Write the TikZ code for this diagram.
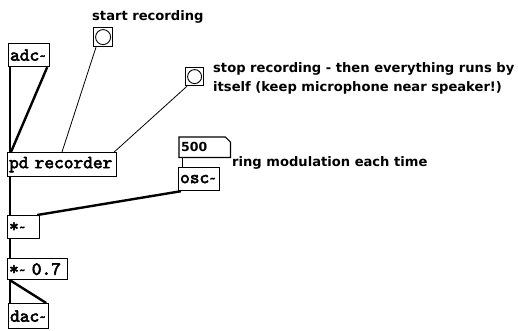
\documentclass[tikz,border=0pt]{standalone}
\usepackage{fontspec}
\newfontfamily\cmtfont{DejaVu Sans}
\newfontfamily\boxfont{lmmono10-regular.otf}[FakeBold=3]
\newcommand{\tl}{{\fontsize{13}{13}\selectfont\raisebox{0.5pt}{\char"007E}}}
\begin{document}
\begin{tikzpicture}[x=1pt,y=-1pt,
  box/.style={draw, line width=1.2pt, inner xsep=1.5pt, inner ysep=0pt, anchor=north west, align=left,
    font=\boxfont\fontsize{18.5}{18.5}\selectfont},
  bangbox/.style={draw, line width=1.2pt, minimum size=#1, inner sep=0pt, anchor=north west},
  bangcirc/.style={draw, circle, line width=0.9pt, minimum size=#1, inner sep=0pt},
  cmt/.style={anchor=base west, inner sep=0pt, font=\cmtfont\bfseries\fontsize{13.1}{15}\selectfont},
  sig/.style={line width=2.4pt},
  ctl/.style={line width=0.8pt}]
\useasboundingbox (0,0) rectangle (518,330);
\fill[white] (0,0) rectangle (518,330);

% comments
\node[cmt] (tstart) at (92,20) {start recording};
\node[cmt] (tstop1) at (213,72) {stop recording - then everything runs by};
\node[cmt] (tstop2) at (213,91) {itself (keep microphone near speaker!)};
\node[cmt] (tring) at (232,166) {ring modulation each time};

% boxes
\node[box, text width=38, minimum height=23] (adc) at (8,43) {adc\tl};
\node[bangbox=19] (bstart) at (93,27) {};
\node[bangcirc=15] (cstart) at (bstart.center) {};
\node[bangbox=18] (bstop) at (185,67) {};
\node[bangcirc=14] (cstop) at (bstop.center) {};
\node[box, text width=106, minimum height=24] (pdrec) at (7,152) {pd recorder};
\node[inner xsep=2pt, inner ysep=0pt, anchor=north west, text width=47, minimum height=20, align=left,
      font=\cmtfont\bfseries\fontsize{12.5}{12.5}\selectfont] (n500) at (179,137) {500};
\draw[line width=1.2pt] (n500.north west) -- ([xshift=-5pt]n500.north east)
   -- ([yshift=-5pt]n500.north east) -- (n500.south east) -- (n500.south west) -- cycle;
\node[box, text width=38, minimum height=23] (osc) at (178,167) {osc\tl};
\node[box, text width=29, minimum height=23] (mul) at (7,215) {*\tl};
\node[box, text width=57, minimum height=21] (mul07) at (7,258) {*\tl{} 0.7};
\node[box, text width=37, minimum height=25] (dac) at (8,303) {dac\tl};

% connections
\draw[sig] ([xshift=2pt]adc.south west) -- ([xshift=3pt]pdrec.north west);
\draw[sig] ([xshift=-3pt]adc.south east) -- ([xshift=4pt]pdrec.north west);
\draw[ctl] ([xshift=3pt]bstart.south west) -- ([xshift=55pt]pdrec.north west);
\draw[ctl] ([xshift=2pt]bstop.south west) -- ([xshift=-3pt]pdrec.north east);
\draw[sig] ([xshift=3pt]pdrec.south west) -- ([xshift=3pt]mul.north west);
\draw[sig] ([xshift=3pt]osc.south west) -- ([xshift=-3pt]mul.north east);
\draw[ctl] ([xshift=3pt]n500.south west) -- ([xshift=4pt]osc.north west);
\draw[sig] ([xshift=3pt]mul.south west) -- ([xshift=3pt]mul07.north west);
\draw[sig] ([xshift=3pt]mul07.south west) -- ([xshift=2pt]dac.north west);
\draw[sig] ([xshift=3pt]mul07.south west) -- ([xshift=-3pt]dac.north east);
\end{tikzpicture}
\end{document}
